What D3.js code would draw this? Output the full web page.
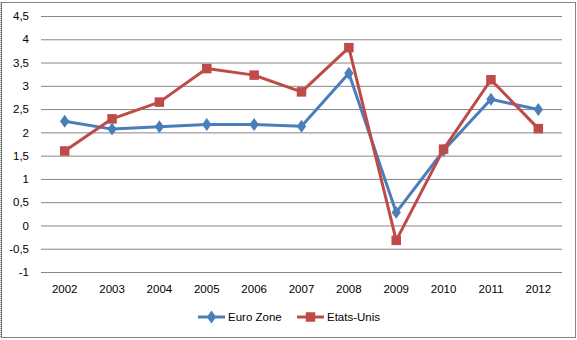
<!DOCTYPE html>
<html>
<head>
<meta charset="utf-8">
<script src="https://cdn.jsdelivr.net/npm/d3@7"></script>
<style>
  html, body { margin: 0; padding: 0; background: #fff; }
  svg { display: block; }
  text { font-family: "Liberation Sans", Arial, sans-serif; font-size: 11.5px; fill: #000; }
</style>
</head>
<body>
<svg id="chart" width="577" height="340"></svg>
<script>
// Annual growth (%), 2002–2012
const years = ["2002","2003","2004","2005","2006","2007","2008","2009","2010","2011","2012"];
const euroZone = [2.24, 2.07, 2.12, 2.17, 2.17, 2.13, 3.27, 0.28, 1.61, 2.71, 2.49];
const etatsUnis = [1.60, 2.29, 2.65, 3.37, 3.23, 2.87, 3.82, -0.32, 1.64, 3.13, 2.08];
const yTicks = [-1, -0.5, 0, 0.5, 1, 1.5, 2, 2.5, 3, 3.5, 4, 4.5];
const seriesNames = ["Euro Zone", "Etats-Unis"];

const W = 577, H = 340;
const plot = { left: 41, right: 562, top: 16, bottom: 272 };
const colors = ["#4A7EBB", "#BE4B48"];

const svg = d3.select("#chart");

// chart frame
svg.append("rect").attr("x", 1.5).attr("y", 2.5).attr("width", W - 3).attr("height", H - 5)
  .attr("fill", "none").attr("stroke", "#868686").attr("stroke-width", 1);
svg.append("line").attr("x1", 1).attr("x2", 1).attr("y1", 2).attr("y2", H - 2)
  .attr("stroke", "#444").attr("stroke-dasharray", "1,1");

const x = d3.scaleBand().domain(years).range([plot.left, plot.right]);
const y = d3.scaleLinear().domain([-1, 4.5]).range([plot.bottom, plot.top]);

const fmt = v => String(v).replace(".", ",");

// horizontal gridlines with value labels
const yAxis = d3.axisLeft(y).tickValues(yTicks).tickFormat(fmt)
  .tickSize(-(plot.right - plot.left)).tickPadding(12);
const gy = svg.append("g").attr("transform", `translate(${plot.left},0)`).call(yAxis);
gy.select(".domain").remove();
gy.selectAll(".tick line").attr("stroke", "#868686");
gy.selectAll(".tick text").attr("font-size", 11.5);

// category labels
const xAxis = d3.axisBottom(x).tickSize(0).tickPadding(13);
const gx = svg.append("g").attr("transform", `translate(0,${plot.bottom})`).call(xAxis);
gx.select(".domain").remove();
gx.selectAll(".tick text").attr("font-size", 11.5);

const cx = d => x(d) + x.bandwidth() / 2;
const line = d3.line().x((d, i) => cx(years[i])).y(d => y(d));

const diamond = d3.symbol().type(d3.symbolDiamond).size(48);

function drawSeries(values, color, marker) {
  svg.append("path").datum(values).attr("d", line)
    .attr("fill", "none").attr("stroke", color).attr("stroke-width", 3)
    .attr("stroke-linejoin", "round");
  const g = svg.append("g");
  if (marker === "diamond") {
    g.selectAll("path").data(values).join("path")
      .attr("d", diamond)
      .attr("transform", (d, i) => `translate(${cx(years[i])},${y(d)}) scale(1.25,1)`)
      .attr("fill", color);
  } else {
    g.selectAll("rect").data(values).join("rect")
      .attr("x", (d, i) => cx(years[i]) - 4.75).attr("y", d => y(d) - 4.75)
      .attr("width", 9.5).attr("height", 9.5).attr("fill", color);
  }
}
drawSeries(euroZone, colors[0], "diamond");
drawSeries(etatsUnis, colors[1], "square");

// legend
const ly = 317;
const legendItems = [
  { name: seriesNames[0], color: colors[0], marker: "diamond", x0: 198 },
  { name: seriesNames[1], color: colors[1], marker: "square", x0: 297 }
];
legendItems.forEach(it => {
  const g = svg.append("g");
  g.append("line").attr("x1", it.x0).attr("x2", it.x0 + 27).attr("y1", ly).attr("y2", ly)
    .attr("stroke", it.color).attr("stroke-width", 3);
  if (it.marker === "diamond") {
    g.append("path").attr("d", diamond)
      .attr("transform", `translate(${it.x0 + 13.5},${ly}) scale(1.25,1)`).attr("fill", it.color);
  } else {
    g.append("rect").attr("x", it.x0 + 13.5 - 4.75).attr("y", ly - 4.75)
      .attr("width", 9.5).attr("height", 9.5).attr("fill", it.color);
  }
  g.append("text").attr("x", it.x0 + 30).attr("y", ly).attr("dy", "0.35em")
    .attr("font-size", 11.5).text(it.name);
});
</script>
</body>
</html>
